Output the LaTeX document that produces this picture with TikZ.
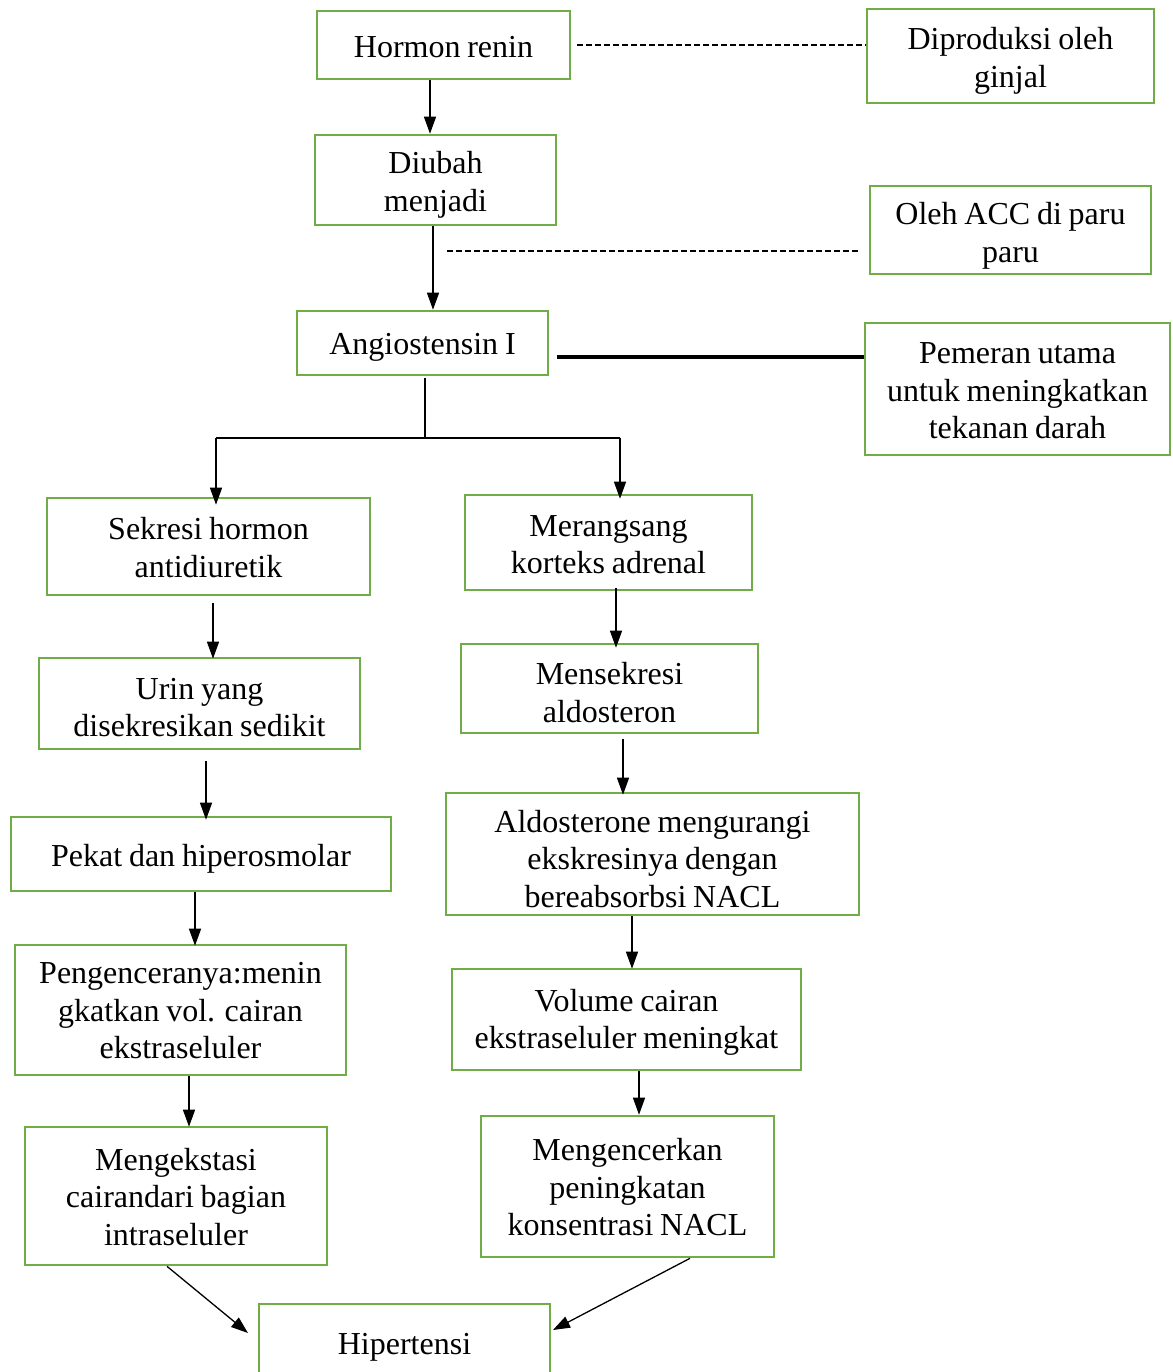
\documentclass[tikz,border=0pt]{standalone}
\usepackage{fontspec}
\setmainfont{Liberation Serif}[WordSpace=0.85]
\usetikzlibrary{arrows.meta}
\definecolor{boxgreen}{RGB}{112,173,71}
\tikzset{
  box/.style={draw=boxgreen, line width=2.6pt, fill=white, inner sep=0pt},
  boxtext/.style={inner sep=0pt, align=flush center, font=\fontsize{32}{37.5}\selectfont},
  arr/.style={line width=1.3pt, -{Triangle[length=17pt,width=12pt]}},
  plainline/.style={line width=1.3pt},
  dashline/.style={line width=1.2pt, dash pattern=on 6pt off 3pt},
  thickline/.style={line width=4pt}
}
% name, width, height, center, text-shift, text
\newcommand{\bnode}[6]{%
  \node[box, minimum width=#2pt, minimum height=#3pt] (#1) at (#4) {};
  \node[boxtext] (#1t) at ([yshift=-#5pt]#1.center) {#6};}
\begin{document}
\begin{tikzpicture}[x=1pt,y=-1pt]
\clip (0,0) rectangle (1172,1372);
\useasboundingbox (0,0) rectangle (1172,1372);
\fill[white] (0,0) rectangle (1172,1372);

\bnode{hr}{253}{68}{443.5,45}{2}{Hormon renin}
\bnode{dp}{287}{94}{1010.5,56}{5}{Diproduksi oleh\\ginjal}
\bnode{du}{241}{90}{435.5,180}{5}{Diubah\\menjadi}
\bnode{acc}{281}{88}{1010.5,230}{6}{Oleh ACC di paru\\paru}
\bnode{ang}{251}{64}{422.5,343}{4}{Angiostensin I}
\bnode{pem}{305}{132}{1017.5,389}{2}{Pemeran utama\\untuk meningkatkan\\tekanan darah}
\bnode{sek}{323}{97}{208.5,546.5}{1}{Sekresi hormon\\antidiuretik}
\bnode{mer}{287}{95}{608.5,542.5}{2}{Merangsang\\korteks adrenal}
\bnode{urin}{321}{91}{199.5,703.5}{4}{Urin yang\\disekresikan sedikit}
\bnode{mens}{297}{89}{609.5,688.5}{4}{Mensekresi\\aldosteron}
\bnode{pek}{380}{74}{201,854}{5}{Pekat dan hiperosmolar}
\bnode{ald}{413}{122}{652.5,854}{5}{Aldosterone mengurangi\\ekskresinya dengan\\bereabsorbsi NACL}
\bnode{peng}{331}{130}{180.5,1010}{1}{Pengenceranya:menin\\gkatkan vol. cairan\\ekstraseluler}
\bnode{vol}{349}{101}{626.5,1019.5}{3}{Volume cairan\\ekstraseluler meningkat}
\bnode{mgx}{302}{138}{176,1196}{1}{Mengekstasi\\cairandari bagian\\intraseluler}
\bnode{mgc}{293}{141}{627.5,1186.5}{1}{Mengencerkan\\peningkatan\\konsentrasi NACL}
\bnode{hip}{291}{80}{404.5,1344}{3}{Hipertensi}

% side connectors
\draw[dashline] ([xshift=6pt]hr.east |- 0,45) -- (dp.west |- 0,45);
\coordinate (accend) at ([xshift=-10pt]acc.west |- 0,251);
\draw[dashline] (447,251) -- (accend);
\draw[thickline] ([xshift=8pt]ang.east |- 0,357) -- (pem.west |- 0,357);

% main chain
\draw[arr] (hr.south -| 430,0) -- (du.north -| 430,0);
\draw[arr] (du.south -| 433,0) -- (ang.north -| 433,0);

\coordinate (j) at (425,438);
\coordinate (jl) at (216,438);
\coordinate (jr) at (620,438);
\draw[plainline] ([yshift=-2pt]ang.south -| j) -- (j);
\draw[plainline] (jl) -- (jr);
\draw[arr] (jl) -- ([yshift=-8pt]sek.north -| jl);
\draw[arr] (jr) -- ([yshift=-5pt]mer.north -| jr);

% left column
\draw[arr] ([yshift=-7pt]sek.south -| 213,0) -- ([yshift=-2pt]urin.north -| 213,0);
\draw[arr] ([yshift=-11pt]urin.south -| 206,0) -- ([yshift=-4pt]pek.north -| 206,0);
\draw[arr] (pek.south -| 195,0) -- ([yshift=-2pt]peng.north -| 195,0);
\draw[arr] (peng.south -| 189,0) -- ([yshift=-1pt]mgx.north -| 189,0);

% right column
\draw[arr] ([yshift=3pt]mer.south -| 616,0) -- ([yshift=-5pt]mens.north -| 616,0);
\draw[arr] ([yshift=-5pt]mens.south -| 623,0) -- ([yshift=-3pt]ald.north -| 623,0);
\draw[arr] (ald.south -| 632,0) -- ([yshift=-1pt]vol.north -| 632,0);
\draw[arr] (vol.south -| 639,0) -- (mgc.north -| 639,0);

% to Hipertensi
\coordinate (ha) at (248,1333);
\coordinate (hb) at (553,1330);
\draw[arr] (mgx.south -| 167,0) -- (ha);
\draw[arr] (mgc.south -| 690,0) -- (hb);
\end{tikzpicture}
\end{document}
